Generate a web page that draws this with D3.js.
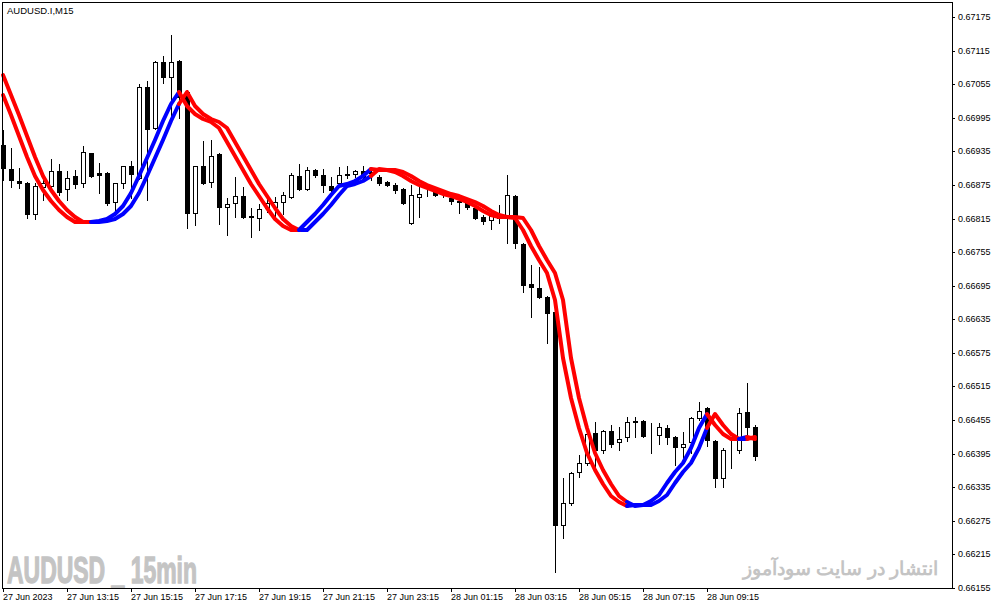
<!DOCTYPE html>
<html><head><meta charset="utf-8">
<script src="https://cdn.jsdelivr.net/npm/d3@7"></script>
<style>
html,body{margin:0;padding:0;background:#fff;}
svg{display:block;}
text{font-family:'Liberation Sans',Arial,sans-serif;}
</style></head><body>
<svg id="chart" width="999" height="609"></svg>
<script>
const symbolLabel = "AUDUSD.I,M15";
const watermarkLatin = "AUDUSD _ 15min";
const watermarkPersian = "انتشار در سایت سودآموز";
const timeLabels = ["27 Jun 2023","27 Jun 13:15","27 Jun 15:15","27 Jun 17:15","27 Jun 19:15","27 Jun 21:15","27 Jun 23:15","28 Jun 01:15","28 Jun 03:15","28 Jun 05:15","28 Jun 07:15","28 Jun 09:15"];
const timeLabelBars = [0,8,16,24,32,40,48,56,64,72,80,88];
const priceTicks = [0.66155,0.66215,0.66275,0.66335,0.66395,0.66455,0.66515,0.66575,0.66635,0.66695,0.66755,0.66815,0.66875,0.66935,0.66995,0.67055,0.67115,0.67175];

const opens = [0.66947,0.66904,0.66882,0.66879,0.66823,0.66871,0.66873,0.66900,0.66868,0.66891,
0.66879,0.66932,0.66896,0.66896,0.66845,0.66879,0.66909,0.66888,0.67050,0.66977,
0.67095,0.67068,0.67097,0.67041,0.66825,0.66909,0.66880,0.66930,0.66836,0.66843,
0.66855,0.66820,0.66816,0.66834,0.66836,0.66845,0.66854,0.66891,0.66868,0.66902,
0.66893,0.66873,0.66879,0.66895,0.66895,0.66900,0.66898,0.66889,0.66880,0.66875,
0.66868,0.66807,0.66854,0.66859,0.66866,0.66862,0.66852,0.66846,0.66843,0.66834,
0.66818,0.66812,0.66818,0.66818,0.66855,0.66769,0.66698,0.66691,0.66675,0.66648,
0.66267,0.66306,0.66362,0.66379,0.66431,0.66401,0.66435,0.66415,0.66424,0.66453,
0.66453,0.66428,0.66428,0.66440,0.66424,0.66406,0.66415,0.66458,0.66476,0.66417,
0.66351,0.66401,0.66401,0.66469,0.66442];
const highs = [0.66973,0.66941,0.66905,0.66880,0.66879,0.66896,0.66922,0.66913,0.66900,0.66902,
0.66945,0.66932,0.66914,0.66898,0.66879,0.66909,0.66918,0.67056,0.67061,0.67097,
0.67106,0.67143,0.67099,0.67045,0.66909,0.66954,0.66955,0.66932,0.66852,0.66889,
0.66871,0.66834,0.66841,0.66854,0.66854,0.66862,0.66896,0.66913,0.66907,0.66904,
0.66904,0.66889,0.66907,0.66909,0.66902,0.66909,0.66905,0.66893,0.66882,0.66879,
0.66870,0.66875,0.66871,0.66871,0.66871,0.66866,0.66861,0.66852,0.66846,0.66839,
0.66821,0.66821,0.66839,0.66893,0.66857,0.66771,0.66732,0.66728,0.66677,0.66673,
0.66351,0.66362,0.66392,0.66440,0.66451,0.66437,0.66446,0.66442,0.66460,0.66460,
0.66455,0.66449,0.66449,0.66446,0.66426,0.66433,0.66460,0.66487,0.66478,0.66419,
0.66405,0.66419,0.66476,0.66521,0.66446];
const lows = [0.66884,0.66871,0.66870,0.66816,0.66814,0.66848,0.66871,0.66857,0.66848,0.66870,
0.66871,0.66889,0.66861,0.66839,0.66827,0.66870,0.66852,0.66886,0.66848,0.66975,
0.67057,0.66995,0.66995,0.66798,0.66803,0.66877,0.66871,0.66805,0.66786,0.66818,
0.66816,0.66782,0.66795,0.66827,0.66818,0.66823,0.66852,0.66866,0.66866,0.66889,
0.66862,0.66861,0.66871,0.66888,0.66889,0.66888,0.66884,0.66875,0.66873,0.66861,
0.66841,0.66805,0.66818,0.66855,0.66855,0.66854,0.66841,0.66825,0.66832,0.66814,
0.66805,0.66796,0.66807,0.66771,0.66762,0.66684,0.66639,0.66673,0.66592,0.66183,
0.66244,0.66303,0.66353,0.66374,0.66371,0.66396,0.66406,0.66401,0.66417,0.66424,
0.66424,0.66397,0.66413,0.66413,0.66374,0.66388,0.66397,0.66455,0.66408,0.66335,
0.66335,0.66369,0.66396,0.66422,0.66383];
const closes = [0.66905,0.66884,0.66879,0.66823,0.66873,0.66879,0.66900,0.66862,0.66888,0.66877,
0.66934,0.66891,0.66893,0.66843,0.66879,0.66909,0.66895,0.67050,0.66975,0.67095,
0.67068,0.67095,0.67032,0.66825,0.66909,0.66879,0.66927,0.66836,0.66841,0.66855,
0.66818,0.66818,0.66832,0.66843,0.66845,0.66857,0.66893,0.66868,0.66902,0.66893,
0.66875,0.66866,0.66893,0.66893,0.66900,0.66889,0.66896,0.66879,0.66875,0.66866,
0.66843,0.66857,0.66859,0.66858,0.66857,0.66861,0.66846,0.66845,0.66836,0.66816,
0.66811,0.66820,0.66816,0.66857,0.66771,0.66696,0.66693,0.66675,0.66646,0.66267,
0.66306,0.66360,0.66379,0.66430,0.66401,0.66435,0.66413,0.66422,0.66451,0.66452,
0.66426,0.66428,0.66442,0.66424,0.66406,0.66413,0.66458,0.66472,0.66419,0.66351,
0.66401,0.66402,0.66467,0.66442,0.66390];
// moving-average indicator, first value belongs to the bar before the first visible bar
const maValues = [0.67072,
0.67036,0.67000,0.66963,0.66925,0.66891,0.66866,0.66846,0.66830,0.66818,0.66809,
0.66809,0.66809,0.66811,0.66814,0.66823,0.66837,0.66861,0.66891,0.66923,0.66955,
0.66989,0.67020,0.67041,0.67016,0.67002,0.66993,0.66988,0.66977,0.66952,0.66927,
0.66902,0.66877,0.66855,0.66834,0.66814,0.66802,0.66795,0.66795,0.66809,0.66823,
0.66839,0.66857,0.66873,0.66877,0.66882,0.66891,0.66904,0.66902,0.66902,0.66898,
0.66891,0.66882,0.66875,0.66870,0.66864,0.66859,0.66855,0.66850,0.66845,0.66837,
0.66828,0.66821,0.66818,0.66818,0.66816,0.66795,0.66766,0.66741,0.66718,0.66669,
0.66566,0.66494,0.66440,0.66397,0.66365,0.66340,0.66320,0.66308,0.66301,0.66303,
0.66304,0.66310,0.66322,0.66342,0.66362,0.66378,0.66405,0.66440,0.66465,0.66446,
0.66430,0.66422,0.66421,0.66424,0.66421];

const svg = d3.select("#chart");
svg.append("rect").attr("width",999).attr("height",609).attr("fill","#fff");

const nBars = opens.length;
const x = d3.scaleLinear().domain([0, nBars-1]).range([3, 3 + 8*(nBars-1)]);
const y = d3.scaleLinear().domain([0.66155, 0.67175]).range([588, 17]).interpolate(d3.interpolateRound);

// watermarks
svg.append("text").attr("x",7).attr("y",583).attr("font-size",36).attr("font-weight","bold")
  .attr("font-family","'Liberation Sans Narrow','Liberation Sans',Arial,sans-serif")
  .attr("fill","#c4c4c4").attr("stroke","#c4c4c4").attr("stroke-width",1.3)
  .attr("textLength",190).attr("lengthAdjust","spacingAndGlyphs")
  .text(watermarkLatin);
svg.append("text").attr("x",938).attr("y",575).attr("font-size",19).attr("font-weight","bold")
  .attr("font-family","'DejaVu Sans',sans-serif").attr("text-anchor","end")
  .attr("fill","#c4c4c4").text(watermarkPersian);

// candles
const bars = d3.range(nBars).map(i => ({i, o:opens[i], h:highs[i], l:lows[i], c:closes[i]}));
const gC = svg.append("g");
gC.selectAll("line.wick").data(bars).join("line").attr("class","wick")
  .attr("x1", d => x(d.i)+0.5).attr("x2", d => x(d.i)+0.5)
  .attr("y1", d => y(d.h)).attr("y2", d => y(d.l)+1)
  .attr("stroke","#000").attr("stroke-width",1).attr("shape-rendering","crispEdges");
gC.selectAll("rect.body").data(bars).join("rect").attr("class","body")
  .attr("x", d => x(d.i)-1.5).attr("width",4)
  .attr("y", d => Math.min(y(d.o),y(d.c))+0.5)
  .attr("height", d => Math.abs(y(d.o)-y(d.c)))
  .attr("fill", d => d.c > d.o ? "#fff" : "#000")
  .attr("stroke","#000").attr("stroke-width",1);

// indicator: current line and one-bar-lagged line, coloured by direction
const trend = [];
let prev = -1;
for (let i=0;i<nBars;i++){
  const a = maValues[i+1], b = maValues[i];
  let t = a > b ? 1 : (a < b ? -1 : prev);
  trend.push(t); prev = t;
}
function runs(valueOf){
  const out = [];
  let cur = null;
  for (let i=1;i<nBars;i++){
    const col = trend[i] > 0 ? "#0000ff" : "#ff0000";
    if (!cur || cur.col !== col){
      cur = {col, pts:[[x(i-1), y(valueOf(i-1))]]};
      out.push(cur);
    }
    cur.pts.push([x(i), y(valueOf(i))]);
  }
  return out;
}
const lineGen = d3.line();
const gL = svg.append("g").attr("fill","none").attr("stroke-width",4)
  .attr("stroke-linejoin","round").attr("stroke-linecap","round");
[i => maValues[i], i => maValues[i+1]].forEach(fn => {
  gL.append("g").selectAll("path").data(runs(fn)).join("path")
    .attr("d", d => lineGen(d.pts)).attr("stroke", d => d.col);
});

// frame
svg.append("rect").attr("x",2.5).attr("y",2.5).attr("width",950).attr("height",586)
  .attr("fill","none").attr("stroke","#000").attr("stroke-width",1);

// price axis
const axR = svg.append("g").attr("transform","translate(952,0)")
  .call(d3.axisRight(y).tickValues(priceTicks).tickFormat(d3.format(".5f")).tickSize(3).tickPadding(3));
axR.select(".domain").remove();
axR.selectAll("text").attr("font-size",9).attr("font-family","'Liberation Sans',Arial,sans-serif").attr("fill","#000");
axR.selectAll("line").attr("stroke","#000");

// time axis
const axB = svg.append("g").attr("transform","translate(0,588)")
  .call(d3.axisBottom(x).tickValues(timeLabelBars).tickFormat((d,k) => timeLabels[k]).tickSize(4).tickPadding(2));
axB.select(".domain").remove();
axB.selectAll("text").attr("font-size",9).attr("text-anchor","start").attr("x",-0.5)
  .attr("font-family","'Liberation Sans',Arial,sans-serif").attr("fill","#000");
axB.selectAll("line").attr("stroke","#000");

// symbol label
svg.append("text").attr("x",7).attr("y",14).attr("font-size",9.5).attr("fill","#000").text(symbolLabel);
</script>
</body></html>
